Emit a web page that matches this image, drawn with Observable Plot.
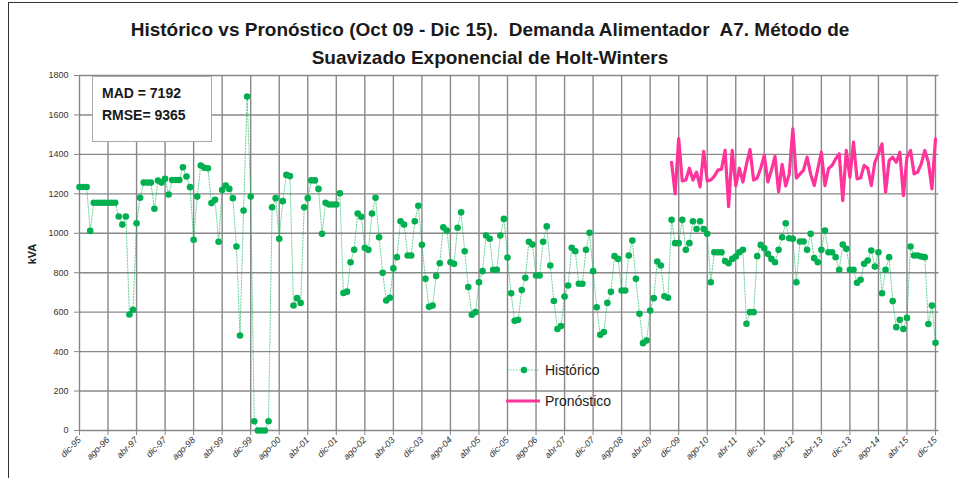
<!DOCTYPE html>
<html><head><meta charset="utf-8">
<script src="https://cdn.jsdelivr.net/npm/d3@7"></script>
<script src="https://cdn.jsdelivr.net/npm/@observablehq/plot@0.6"></script>
<style>
body{margin:0;background:#fff;font-family:"Liberation Sans",Arial,sans-serif;}
#wrap{position:relative;width:958px;height:478px;overflow:hidden;background:#fff;}
#frame{position:absolute;left:8px;top:2px;width:1000px;height:600px;border-left:1.5px solid #333;border-top:1.5px solid #333;}
#title{position:absolute;left:0;top:16px;width:980px;text-align:center;font-weight:bold;font-size:19px;line-height:28px;color:#1a1a1a;}
#chart{position:absolute;left:0;top:66px;}
#stats{position:absolute;left:92px;top:76px;width:120px;height:66px;border:1.5px solid #aaa;background:#fff;font-weight:bold;font-size:14px;line-height:22px;color:#1a1a1a;box-sizing:border-box;padding:5px 0 0 9px;}
#ylab{position:absolute;left:22px;top:248px;transform:rotate(-90deg);font-size:11px;font-weight:bold;color:#222;}
.leg{position:absolute;left:505px;font-size:14px;color:#222;display:flex;align-items:center;gap:4px;}
</style></head>
<body>
<div id="wrap">
  <div id="frame"></div>
  <div id="title">Histórico vs Pronóstico (Oct 09 - Dic 15).&nbsp; Demanda Alimentador&nbsp; A7. Método de<br>Suavizado Exponencial de Holt-Winters</div>
  <div id="chart"></div>
  <div id="stats">MAD = 7192<br>RMSE= 9365</div>
  <div id="ylab">kVA</div>
  <div class="leg" style="top:362px"><svg width="36" height="10"><line x1="2" y1="5" x2="34" y2="5" stroke="#00B050" stroke-opacity="0.6" stroke-dasharray="1.5,1.5"/><circle cx="19" cy="5" r="3.3" fill="#00B050"/></svg><span id="l1"></span></div>
  <div class="leg" style="top:393px"><svg width="36" height="10"><line x1="1" y1="5" x2="35" y2="5" stroke="#FF3399" stroke-width="3"/></svg><span id="l2"></span></div>
</div>
<script>
// Tick labels (every 8 months, starting dic-95)
const xTickLabels = ["dic-95","ago-96","abr-97","dic-97","ago-98","abr-99","dic-99","ago-00","abr-01","dic-01","ago-02","abr-03","dic-03","ago-04","abr-05","dic-05","ago-06","abr-07","dic-07","ago-08","abr-09","dic-09","ago-10","abr-11","dic-11","ago-12","abr-13","dic-13","ago-14","abr-15","dic-15"];
const yTicks = [0,200,400,600,800,1000,1200,1400,1600,1800];
const seriesNames = ["Histórico","Pronóstico"];

// Histórico: monthly demand (kVA), dic-95 .. dic-15
const historico = [
 1235,1235,1235,1012,1155,1155,1155,1155,1155,1155,
 1155,1085,1044,1085,588,612,1051,1180,1257,1257,
 1257,1124,1267,1257,1276,1197,1270,1270,1270,1335,
 1288,1234,967,1186,1344,1332,1330,1153,1170,957,
 1220,1242,1225,1178,933,482,1115,1693,1186,47,
 0,0,0,47,1132,1178,972,1163,1296,1290,
 634,671,647,1132,1178,1268,1268,1225,997,1155,
 1146,1146,1146,1203,697,704,853,916,1100,1084,
 926,916,1100,1180,980,800,659,673,822,879,
 1061,1044,887,887,1061,1139,942,769,627,634,
 784,848,1030,1014,853,845,1028,1107,909,727,
 587,600,752,808,989,972,815,815,989,1073,
 877,696,556,561,712,774,957,943,786,786,
 957,1035,837,657,515,530,679,735,926,909,
 744,744,916,1003,808,625,485,499,647,703,
 884,870,710,710,887,963,769,592,443,456,
 608,671,857,837,681,673,1068,950,950,1068,
 916,950,1061,1022,1061,1022,997,752,904,904,
 904,859,848,870,882,904,916,541,600,600,
 884,941,924,896,870,853,916,980,1051,975,
 972,752,958,958,916,997,874,853,916,1014,
 904,904,879,815,943,921,815,815,749,764,
 845,862,913,831,904,696,815,879,656,524,
 561,515,571,933,887,887,882,879,540,634,
 445];

// Pronóstico: oct-09 .. dic-15
const pronosticoStart = 166; // month index of oct-09
const pronostico = [
 1360,1200,1480,1265,1270,1330,1270,1310,1235,1415,
 1265,1270,1290,1320,1325,1420,1135,1420,1240,1330,
 1260,1350,1425,1270,1280,1330,1395,1260,1320,1390,
 1210,1350,1240,1300,1530,1280,1300,1320,1386,1300,
 1242,1327,1411,1242,1327,1344,1377,1403,1165,1420,
 1284,1462,1276,1280,1344,1330,1242,1360,1403,1453,
 1208,1369,1386,1360,1411,1191,1386,1420,1301,1310,
 1352,1420,1360,1225,1479];

document.getElementById("l1").textContent = seriesNames[0];
document.getElementById("l2").textContent = seriesNames[1];

const hist = historico.map((v,i)=>({m:i, v}));
const fc = pronostico.map((v,i)=>({m:i+pronosticoStart, v}));
const xTicks = xTickLabels.map((_,i)=>i*8);

const chart = Plot.plot({
  width: 958, height: 412,
  marginLeft: 79, marginRight: 23, marginTop: 9, marginBottom: 48,
  style: {fontFamily: "Liberation Sans, Arial, sans-serif", fontSize: "9px", color: "#333", background: "transparent"},
  x: {domain: [0, 240]},
  y: {domain: [0, 1800]},
  marks: [
    Plot.gridX(xTicks, {stroke: "#888", strokeOpacity: 1, strokeWidth: 1.4}),
    Plot.gridY(yTicks, {stroke: "#888", strokeOpacity: 1, strokeWidth: 1.4, x1: 0, x2: 241}),
    Plot.axisX({ticks: xTicks, tickFormat: d => xTickLabels[d/8], tickRotate: -45, tickSize: 5, tickPadding: 3, label: null, stroke: "#888", fontStyle: "italic"}),
    Plot.axisY({ticks: yTicks, tickFormat: d => String(d), tickSize: 5, tickPadding: 6, label: null, stroke: "#888"}),
    Plot.line(hist, {x: "m", y: "v", stroke: "#00B050", strokeOpacity: 0.55, strokeWidth: 1, strokeDasharray: "1.5,1.5"}),
    Plot.dot(hist, {x: "m", y: "v", r: 3.3, fill: "#00B050", stroke: "none"}),
    Plot.line(fc, {x: "m", y: "v", stroke: "#FF3399", strokeWidth: 3.2})
  ]
});
document.getElementById("chart").appendChild(chart);
</script>
</body></html>
